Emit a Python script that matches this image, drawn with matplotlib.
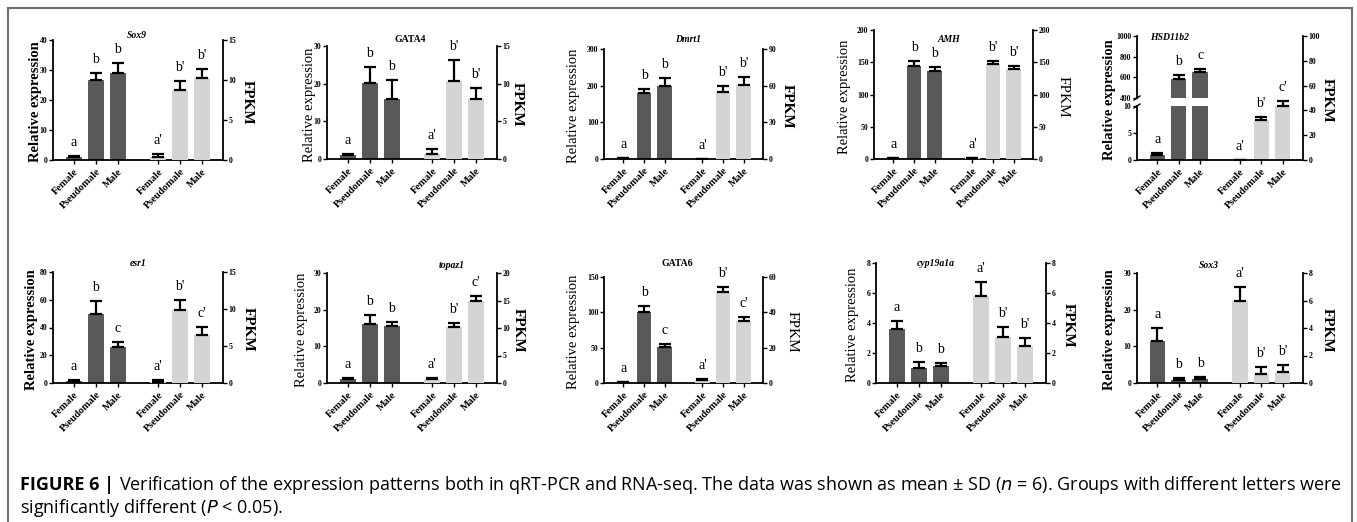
import matplotlib
matplotlib.use('Agg')
import numpy as np
import matplotlib.pyplot as plt
from matplotlib.lines import Line2D

W, H = 1357, 522
DPI = 100

categories = ['Female', 'Pseudomale', 'Male']
genes = ['Sox9', 'GATA4', 'Dmrt1', 'AMH', 'HSD11b2',
         'esr1', 'topaz1', 'GATA6', 'cyp19a1a', 'Sox3']
gene_italic = [True, False, True, True, True, True, True, False, True, True]

# qRT-PCR, left axis (dark bars)
qpcr_mean = [
    [1.0, 26.7, 28.9],
    [1.0, 20.2, 15.8],
    [1.5, 180, 200],
    [1.0, 144, 136],
    [0.9, 587, 656],
    [1.2, 50, 26],
    [1.0, 16.0, 15.5],
    [1.0, 100, 50.3],
    [3.62, 1.03, 1.12],
    [11.4, 0.9, 1.2],
]
qpcr_sd = [
    [0.4, 2.4, 3.5],
    [0.3, 4.2, 5.3],
    [1.0, 11, 20],
    [0.5, 8, 7],
    [0.4, 38, 25],
    [0.7, 9, 3.8],
    [0.4, 2.5, 1.1],
    [0.5, 9.6, 5.2],
    [0.54, 0.36, 0.22],
    [3.5, 0.5, 0.4],
]
# RNA-seq, right axis (light bars)
fpkm_mean = [
    [0.4, 8.8, 10.2],
    [0.7, 10.3, 7.9],
    [0.1, 54.5, 60.5],
    [0.8, 147, 140],
    [0.3, 32.3, 43.5],
    [0.2, 9.8, 6.5],
    [0.7, 10.1, 14.9],
    [1.5, 51.6, 35.1],
    [5.83, 3.08, 2.48],
    [5.93, 0.68, 0.8],
]
fpkm_sd = [
    [0.35, 1.1, 1.15],
    [0.6, 2.9, 1.5],
    [0.1, 5.5, 6.5],
    [0.4, 5, 4],
    [0.1, 2.1, 4.3],
    [0.25, 1.4, 1.1],
    [0.3, 0.9, 0.9],
    [0.8, 3.0, 2.5],
    [0.9, 0.67, 0.54],
    [1.07, 0.49, 0.49],
]
letters_q = [['a', 'b', 'b'], ['a', 'b', 'b'], ['a', 'b', 'b'], ['a', 'b', 'b'],
             ['a', 'b', 'c'], ['a', 'b', 'c'], ['a', 'b', 'b'], ['a', 'b', 'c'],
             ['a', 'b', 'b'], ['a', 'b', 'b']]
letters_f = [["a'", "b'", "b'"], ["a'", "b'", "b'"], ["a'", "b'", "b'"], ["a'", "b'", "b'"],
             ["a'", "b'", "c'"], ["a'", "b'", "c'"], ["a'", "b'", "c'"], ["a'", "b'", "c'"],
             ["a'", "b'", "b'"], ["a'", "b'", "b'"]]

left_max = [40, 30, 300, 200, None, 80, 30, 150, 8, 30]
left_step = [10, 10, 100, 50, None, 20, 10, 50, 2, 10]
right_max = [15, 15, 90, 200, 100, 15, 20, 60, 8, 8]
right_step = [5, 5, 30, 50, 20, 5, 5, 20, 2, 2]
# broken left axis of HSD11b2
hsd_low = [0, 5, 10]
hsd_high = [400, 600, 800, 1000]

caption1 = ('Verification of the expression patterns both in qRT-PCR and RNA-seq. '
            'The data was shown as mean \u00b1 SD ($\\it{n}$ = 6). '
            'Groups with different letters were')
caption2 = 'significantly different ($\\it{P}$ < 0.05).'

# layout in pixels: left, right, top, bottom of each panel
rects = [(53, 223, 40, 160), (327, 497, 46, 159), (604, 763, 49, 159),
         (874, 1033, 30, 159), (1137, 1303, 36, 160),
         (53, 223, 272, 383), (327, 497, 273, 383), (604, 763, 277, 383),
         (876, 1046, 263, 383), (1137, 1303, 273, 383)]
title_xy = [(137, 36), (410, 39), (688, 40), (949, 39), (1170, 37),
            (138, 263), (452, 266), (677, 263), (936, 264), (1209, 265)]
ylab_off = [18, 17, 30, 30, 28, 21, 25, 31, 24, 27]
ylab_bold = [True, False, False, False, True, True, False, False, False, True]
fpkm_off = [24, 20, 24, 30, 24, 25, 21, 29, 22, 24]
fpkm_bold = [True, True, True, False, True, True, True, False, True, True]

xpos = np.array([0, 1, 2, 3.85, 4.85, 5.85])
DARK = '#595959'
LIGHT = '#d4d4d4'
SERIF = ['Liberation Serif', 'DejaVu Serif']
TICK_FS = 5.6
LET_FS = 10

fig = plt.figure(figsize=(W / DPI, H / DPI), dpi=DPI)


def px_rect(l, r, t, b):
    return [l / W, 1 - b / H, (r - l) / W, (b - t) / H]


def style_y(ax):
    ax.tick_params(axis='y', length=3, width=1, labelsize=TICK_FS, pad=1)
    for lbl in ax.get_yticklabels():
        lbl.set_fontweight('bold')
        lbl.set_family(SERIF)


def letter(ax, x, y, t):
    ax.annotate(t, xy=(x, y), xytext=(0, 5), textcoords='offset points',
                ha='center', va='bottom', fontsize=LET_FS, family=SERIF)


def errs(ax, x, mean, sd):
    ax.errorbar(x, mean, yerr=[np.zeros(len(sd)), sd], fmt='none', ecolor='black',
                elinewidth=1.6, capsize=4.2, capthick=1.6, zorder=3)


def bars(ax, x, mean, sd, color, letters):
    ax.bar(x, mean, width=0.72, color=color, zorder=2)
    errs(ax, x, mean, sd)
    for xi, m, s, t in zip(x, mean, sd, letters):
        letter(ax, xi, m + s, t)


def xaxis(ax):
    ax.set_xlim(-0.95, 6.8)
    ax.set_xticks(xpos)
    ax.set_xticklabels(categories * 2, rotation=45, ha='right', rotation_mode='anchor',
                       fontsize=7.4, fontweight='bold', family=SERIF)
    ax.tick_params(axis='x', length=3, width=1, pad=2)


for i, g in enumerate(genes):
    l, r, t, b = rects[i]
    if i == 4:
        # broken left axis
        axr = fig.add_axes(px_rect(l, r, t, b))
        axr.patch.set_visible(False)
        for s in ['top', 'left', 'bottom']:
            axr.spines[s].set_visible(False)
        axr.spines['right'].set_linewidth(1.3)
        axr.yaxis.tick_right()
        axr.set_ylim(0, right_max[i])
        axr.set_yticks(np.arange(0, right_max[i] + 1, right_step[i]))
        axr.set_xticks([])
        axr.set_xlim(-0.95, 6.8)
        bars(axr, xpos[3:], fpkm_mean[i], fpkm_sd[i], LIGHT, letters_f[i])
        style_y(axr)

        lo = fig.add_axes(px_rect(l, r, 106, b))
        hi = fig.add_axes(px_rect(l, r, t, 98))
        for ax in (lo, hi):
            ax.patch.set_visible(False)
            ax.spines['top'].set_visible(False)
            ax.spines['right'].set_visible(False)
            ax.spines['left'].set_linewidth(1.3)
            ax.set_xlim(-0.95, 6.8)
            ax.bar(xpos[:3], qpcr_mean[i], width=0.72, color=DARK, zorder=2)
        hi.spines['bottom'].set_visible(False)
        lo.spines['bottom'].set_linewidth(1.3)
        lo.set_ylim(0, 10)
        lo.set_yticks(hsd_low)
        hi.set_ylim(400, 1000)
        hi.set_yticks(hsd_high)
        hi.set_xticks([])
        errs(lo, xpos[:1], qpcr_mean[i][:1], qpcr_sd[i][:1])
        errs(hi, xpos[1:3], qpcr_mean[i][1:], qpcr_sd[i][1:])
        letter(lo, xpos[0], qpcr_mean[i][0] + qpcr_sd[i][0], letters_q[i][0])
        for k in (1, 2):
            letter(hi, xpos[k], qpcr_mean[i][k] + qpcr_sd[i][k], letters_q[i][k])
        style_y(lo)
        style_y(hi)
        xaxis(lo)
        # break marks on the left spine
        for yy in (98, 106):
            fig.add_artist(Line2D([(l - 3) / W, (l + 3) / W],
                                  [1 - (yy + 2) / H, 1 - (yy - 2) / H],
                                  color='black', lw=1))
    else:
        ax = fig.add_axes(px_rect(l, r, t, b))
        ax2 = ax.twinx()
        for s in ['top', 'right']:
            ax.spines[s].set_visible(False)
        for s in ['top', 'left', 'bottom']:
            ax2.spines[s].set_visible(False)
        ax.spines['left'].set_linewidth(1.3)
        ax.spines['bottom'].set_linewidth(1.3)
        ax2.spines['right'].set_linewidth(1.3)
        bars(ax, xpos[:3], qpcr_mean[i], qpcr_sd[i], DARK, letters_q[i])
        bars(ax2, xpos[3:], fpkm_mean[i], fpkm_sd[i], LIGHT, letters_f[i])
        ax.set_ylim(0, left_max[i])
        ax.set_yticks(np.arange(0, left_max[i] + 0.01, left_step[i]))
        ax2.set_ylim(0, right_max[i])
        ax2.set_yticks(np.arange(0, right_max[i] + 0.01, right_step[i]))
        style_y(ax)
        style_y(ax2)
        xaxis(ax)

    # labels
    cy = 1 - ((t + b) / 2 + 2) / H
    fig.text((l - ylab_off[i]) / W, cy, 'Relative expression', rotation=90,
             ha='center', va='center', fontsize=10.5, family=SERIF,
             fontweight='bold' if ylab_bold[i] else 'normal')
    fig.text((r + fpkm_off[i]) / W, cy, 'FPKM', rotation=-90, ha='center', va='center',
             fontsize=11, family=SERIF, fontweight='bold' if fpkm_bold[i] else 'normal')
    tx, ty = title_xy[i]
    fig.text(tx / W, 1 - ty / H, g, ha='center', va='center', fontsize=7, family=SERIF,
             fontweight='bold', style='italic' if gene_italic[i] else 'normal')

# frame around the figure
bc = '#6e6e6e'
fig.add_artist(Line2D([8 / W, 8 / W], [0, 1 - 8 / H], color=bc, lw=1.5))
fig.add_artist(Line2D([8 / W, 1352 / W], [1 - 8 / H, 1 - 8 / H], color=bc, lw=1.5))
fig.add_artist(Line2D([1352 / W, 1352 / W], [0, 1 - 8 / H], color=bc, lw=1.5))

# caption, font size fitted so the first line ends near x = 1340 px
SANS = ['Open Sans', 'DejaVu Sans']
renderer = fig.canvas.get_renderer()


def caption(fs):
    a = fig.text(20 / W, 1 - 485 / H, 'FIGURE 6 |', fontsize=fs, fontweight='bold',
                 family=SANS, va='center', ha='left')
    x0 = a.get_window_extent(renderer).x1 + 0.35 * fs
    c = fig.text(x0 / W, 1 - 485 / H, caption1, fontsize=fs, family=SANS,
                 va='center', ha='left')
    return a, c, c.get_window_extent(renderer).x1


fs = 10.0
a, c, x1 = caption(fs)
a.remove()
c.remove()
fs = fs * (1340 - 20) / (x1 - 20)
caption(fs)
fig.text(20 / W, 1 - 508 / H, caption2, fontsize=fs, family=SANS, va='center', ha='left')

fig.savefig('out.png', dpi=DPI)
